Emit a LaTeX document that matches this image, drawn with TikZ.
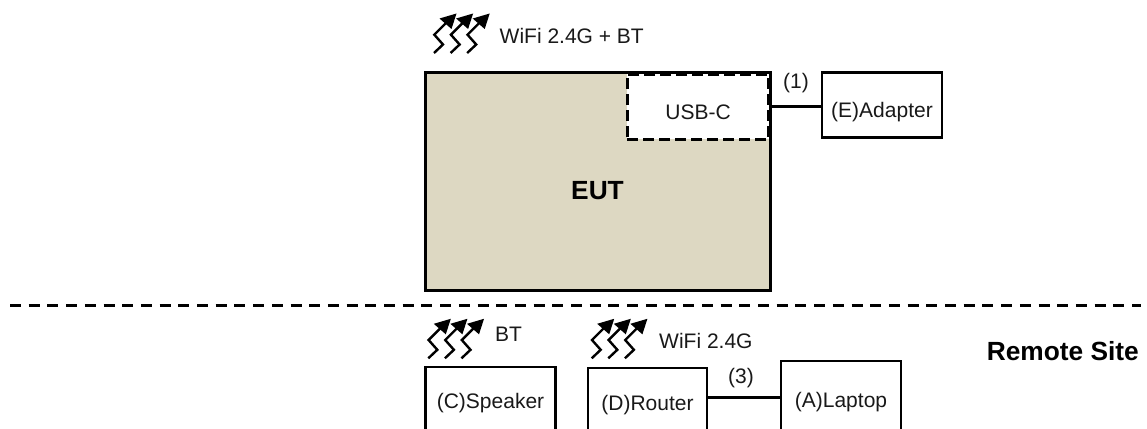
\documentclass[tikz,border=0pt]{standalone}
\usepackage{fontspec}
\setmainfont{Liberation Sans}
\tikzset{
  x=1pt,y=-1pt,
  box/.style={draw=black,line width=2.8pt,inner sep=0pt,minimum width=#1,align=center},
  lbl/.style={inner sep=0pt,font=\fontsize{21}{24}\selectfont,text=black!90},
  blbl/.style={inner sep=0pt,font=\fontsize{26.3}{30}\bfseries\selectfont,text=black},
  conn/.style={draw=black,line width=3pt},
  pics/wave/.style={code={
    \foreach \dx in {0,16.6,33.2}{
      \draw[line width=2.4pt,xshift=\dx pt] (0,0) -- (9,-8.5) -- (0.3,-18.3) -- (9,-27) -- (14,-32);
      \fill[xshift=\dx pt] (22.5,-39.5) -- (5.5,-34.5) -- (17.5,-24) -- cycle;
    }
  }}
}
\begin{document}
\begin{tikzpicture}
\useasboundingbox (0,0) rectangle (1147,428);
\clip (0,0) rectangle (1147,428);
\node[draw=black,line width=3pt,fill={rgb,255:red,221;green,216;blue,194},minimum width=345pt,minimum height=218pt,inner sep=0pt] (eut) at (597.5,181) {};
\node[blbl] (eutl) at (597.5,191) {EUT};
\node[draw=black,line width=3pt,dash pattern=on 11pt off 5pt,fill=white,minimum width=141.5pt,minimum height=65pt,inner sep=0pt] (usb) at (697.75,106.5) {};
\node[lbl] (usbl) at (698,112.5) {USB-C};
\node[box=120pt,minimum height=65pt] (ad) at (882,105) {};
\node[lbl] (adl) at (882,112) {(E)Adapter};
\draw[conn] (eut.east |- 0,106) -- (ad.west |- 0,106);
\node[lbl] (l1) at (796,83) {(1)};
\coordinate (dl) at (10,305.3);
\coordinate (dr) at (1141,305.3);
\draw[line width=2.8pt,dash pattern=on 11pt off 7.7pt] (dl) -- (dr);
\pic at (434,53) {wave};
\node[lbl,anchor=west] (wifi) at (499.5,35.5) {WiFi 2.4G + BT};
\pic at (428.3,358.3) {wave};
\node[lbl,anchor=west] (bt) at (495,334.5) {BT};
\pic at (591.7,358.3) {wave};
\node[lbl,anchor=west] (wifi2) at (659,341) {WiFi 2.4G};
\node[box=130pt,minimum height=73pt,lbl] (c) at (490.5,403.5) {(C)Speaker};
\node[box=119pt,minimum height=74pt,lbl] (d) at (647.5,405) {(D)Router};
\node[box=120pt,minimum height=83pt,lbl] (a) at (841,402.5) {(A)Laptop};
\draw[conn] (d.east |- 0,397) -- (a.west |- 0,397);
\node[lbl] (l3) at (741,378) {(3)};
\node[blbl,anchor=east] (rs) at (1139,351.5) {Remote Site};
\end{tikzpicture}
\end{document}
